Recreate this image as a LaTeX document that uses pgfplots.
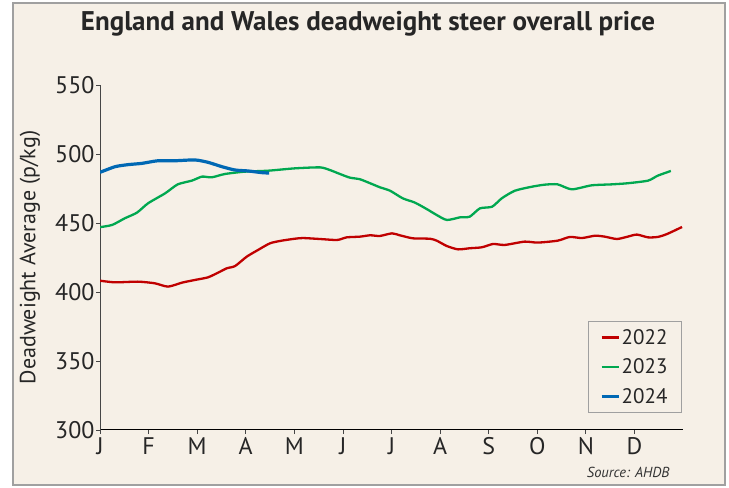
\documentclass[border=0pt]{standalone}
\usepackage{pgfplots}
\pgfplotsset{compat=1.18}
\usepackage{fontspec}
\setmainfont{PT Sans}
\definecolor{bg}{RGB}{246,240,231}
\definecolor{frame}{RGB}{160,160,160}
\definecolor{c22}{RGB}{192,0,0}
\definecolor{c23}{RGB}{0,168,80}
\definecolor{c24}{RGB}{0,104,180}
\definecolor{axisgray}{RGB}{70,70,70}
\begin{document}
\begin{tikzpicture}
\useasboundingbox (0bp,0bp) rectangle (729bp,488bp);
\fill[white] (0bp,0bp) rectangle (729bp,488bp);
\draw[frame, line width=2.5bp, fill=bg] (13bp,3bp) rectangle (725bp,485bp);
\node[font=\fontsize{27bp}{30bp}\selectfont\bfseries, text=black!85] at (368bp,464bp) {England and Wales deadweight steer overall price};
\node[anchor=east, font=\fontsize{14.5bp}{16bp}\selectfont\itshape, text=black!80] at (673bp,16bp) {Source: AHDB};
\begin{axis}[
  at={(100bp,58bp)}, anchor=south west, scale only axis,
  width=583bp, height=345bp,
  xmin=0, xmax=12, ymin=300, ymax=550,
  axis x line=bottom, axis y line=left,
  x axis line style={-, black, line width=1bp},
  y axis line style={-, axisgray, line width=0.8bp},
  tick align=outside, major tick length=4bp,
  tick style={axisgray, line width=0.8bp},
  xtick={0,1,2,3,4,5,6,7,8,9,10,11},
  xticklabels={J,F,M,A,M,J,J,A,S,O,N,D},
  ytick={300,350,400,450,500,550},
  /pgf/number format/assume math mode=true,
  ticklabel style={font=\fontsize{24bp}{27bp}\selectfont, text=black!85},
  yticklabel style={xshift=2bp},
  ylabel={Deadweight Average (p/kg)},
  every axis y label/.style={at={(rel axis cs:-0.12,0.5)}, rotate=90, anchor=center, font=\fontsize{22bp}{25bp}\selectfont, text=black!85},
  legend style={at={(0.998,0.316)}, anchor=north east, draw=frame, fill=bg, line width=0.8bp,
    font=\fontsize{21bp}{24bp}\selectfont, text=black!85, inner xsep=12bp, inner ysep=6bp, row sep=9bp,
    /tikz/every even column/.append style={column sep=0bp}},
  legend cell align=left,
  legend image code/.code={\draw[#1, line width=2.2bp] (0bp,0bp) -- (17bp,0bp);},
]
\addplot[c22, line width=2.3bp, smooth, tension=0.4] coordinates {
(0,408.2)(0.31,407)(0.78,407.5)(1.13,406.3)(1.40,403.9)(1.69,406.8)(1.95,408.7)(2.22,410.6)(2.43,414)(2.61,417.2)(2.78,418.8)(3.02,425.6)(3.25,430.4)(3.50,435.3)(3.74,437.2)(4.01,438.6)(4.18,439.1)(4.53,438.4)(4.88,437.7)(5.08,439.6)(5.35,440.1)(5.56,441.1)(5.76,440.6)(6.01,442.5)(6.17,441.1)(6.44,438.9)(6.79,438.6)(6.93,437.2)(7.14,433.3)(7.37,430.9)(7.61,431.7)(7.86,432.4)(8.09,434.8)(8.33,434.1)(8.74,436.5)(9.01,435.8)(9.42,437.2)(9.67,439.9)(9.92,439.1)(10.19,440.8)(10.39,440.1)(10.64,438.4)(10.86,440.1)(11.05,441.6)(11.28,439.6)(11.48,439.9)(11.67,442)(11.98,447.1)
};
\addlegendentry{2022}
\addplot[c23, line width=2.3bp, smooth, tension=0.4] coordinates {
(0,447)(0.25,448.6)(0.51,453.4)(0.76,457.5)(0.99,464.3)(1.34,471.5)(1.60,478)(1.89,480.7)(2.10,483.6)(2.30,483.1)(2.57,485.5)(2.98,487.2)(3.46,487.9)(4.01,489.6)(4.53,490.3)(4.73,488.4)(4.94,485.5)(5.14,482.9)(5.35,481.7)(5.56,478.8)(5.76,475.9)(5.97,473.4)(6.23,467.9)(6.48,464.8)(6.73,460)(6.93,455.8)(7.14,452.2)(7.41,454.1)(7.61,454.6)(7.82,460.6)(8.07,461.8)(8.27,467.9)(8.54,473.4)(8.89,476.3)(9.16,477.8)(9.42,478)(9.71,474.4)(10.12,477.3)(10.53,478)(10.86,478.8)(11.28,480.7)(11.48,484.3)(11.75,487.7)
};
\addlegendentry{2023}
\addplot[c24, line width=3.2bp, smooth, tension=0.4] coordinates {
(0,486.7)(0.31,490.8)(0.58,492.3)(0.86,493.2)(1.19,495.1)(1.54,495.1)(1.95,495.7)(2.22,494)(2.51,490.8)(2.78,488.4)(3.05,487.7)(3.33,486.5)(3.48,486.2)
};
\addlegendentry{2024}
\end{axis}
\end{tikzpicture}
\end{document}
